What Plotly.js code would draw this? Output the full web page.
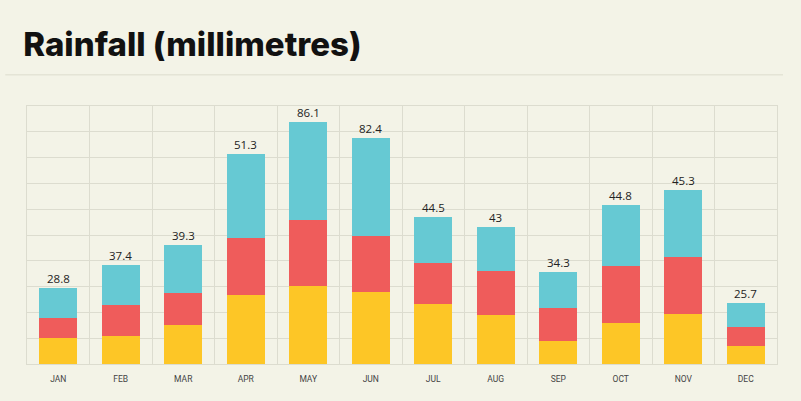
<!DOCTYPE html>
<html>
<head>
<meta charset="utf-8">
<script src="https://cdn.plot.ly/plotly-3.0.1.min.js"></script>
<style>
  html, body { margin: 0; padding: 0; background: #f3f3e7; }
  #chart { width: 801px; height: 401px; }
</style>
</head>
<body>
<div id="chart"></div>
<script>
// months and the printed totals
var months = ['JAN','FEB','MAR','APR','MAY','JUN','JUL','AUG','SEP','OCT','NOV','DEC'];
var totals = ['28.8','37.4','39.3','51.3','86.1','82.4','44.5','43','34.3','44.8','45.3','25.7'];

// segment heights (grid step = 1)
var yellow = [1.01, 1.07, 1.50, 2.69, 3.03, 2.79, 2.32, 1.89, 0.88, 1.59, 1.94, 0.69];
var red    = [0.76, 1.20, 1.25, 2.20, 2.56, 2.16, 1.58, 1.72, 1.28, 2.21, 2.21, 0.74];
var teal   = [1.18, 1.56, 1.85, 3.25, 3.79, 3.80, 1.81, 1.71, 1.40, 2.36, 2.60, 0.93];

var barW = 0.61;
function seg(vals, col) {
  return {
    type: 'bar', x: months, y: vals, width: barW,
    marker: { color: col, line: { width: 0 } },
    hoverinfo: 'skip', showlegend: false
  };
}

var data = [
  seg(yellow, '#fdc626'),
  seg(red, '#ef5c5b'),
  seg(teal, '#66c9d3')
];

// total labels sit just above each stack
var labels = [];
for (var i = 0; i < months.length; i++) {
  labels.push({
    x: months[i], y: yellow[i] + red[i] + teal[i],
    text: totals[i], showarrow: false,
    xanchor: 'center', yanchor: 'bottom', yshift: 0,
    font: { family: 'Open Sans', size: 11.5, color: '#222222' }
  });
}

var grid = '#dcdccf';
var layout = {
  width: 801, height: 401,
  paper_bgcolor: '#f3f3e7', plot_bgcolor: '#f3f3e7',
  margin: { l: 27, r: 24, t: 106, b: 37 },
  barmode: 'stack',
  title: {
    text: 'Rainfall (millimetres)',
    font: { family: 'Inter', size: 33, weight: 800, color: '#111111' },
    xref: 'container', yref: 'container',
    x: 0.029, xanchor: 'left', y: 0.888, yanchor: 'middle'
  },
  xaxis: {
    type: 'category', tickson: 'boundaries',
    showgrid: true, gridcolor: grid, gridwidth: 1,
    showline: true, mirror: true, linecolor: grid,
    ticks: '', range: [-0.5, 11.5], ticklabelstandoff: 7,
    tickfont: { family: 'Roboto', size: 8.5, color: '#444444' }
  },
  yaxis: {
    range: [0, 10], dtick: 1, showticklabels: false,
    showgrid: true, gridcolor: grid, gridwidth: 1,
    zeroline: false, showline: true, mirror: true, linecolor: grid,
    ticks: ''
  },
  annotations: labels,
  shapes: [{
    type: 'line', xref: 'paper', yref: 'paper',
    x0: -0.029, x1: 1.008, y0: 1.1215, y1: 1.1215,
    line: { color: '#e4e4d6', width: 1.5 }
  }]
};

Plotly.newPlot('chart', data, layout, { displayModeBar: false, staticPlot: true });
</script>
</body>
</html>
